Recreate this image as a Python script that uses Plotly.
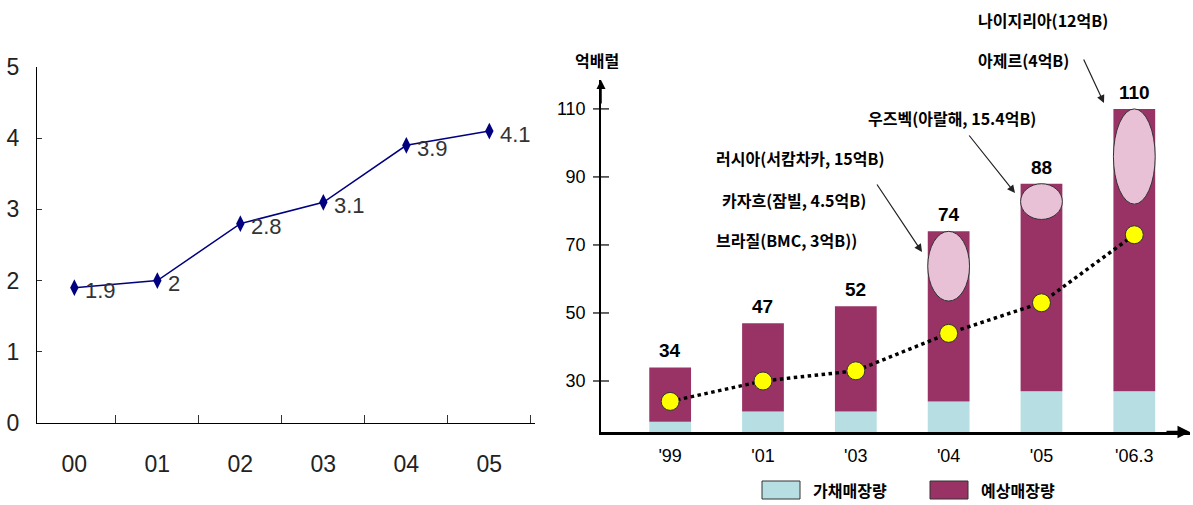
import plotly.graph_objects as go

# ---- left panel: yearly trend ----
years = ["00", "01", "02", "03", "04", "05"]
trend = [1.9, 2, 2.8, 3.1, 3.9, 4.1]
left_ticks = [0, 1, 2, 3, 4, 5]

# ---- right panel: reserves (억배럴) ----
periods = ["'99", "'01", "'03", "'04", "'05", "'06.3"]
totals = [34, 47, 52, 74, 88, 110]
proven = [18, 21, 21, 24, 27, 27]           # 가채매장량
expected = [t - p for t, p in zip(totals, proven)]  # 예상매장량
dots = [24, 30, 33, 44, 53, 73]
right_ticks = [30, 50, 70, 90, 110]
# highlighted new fields (ellipse spans on the bars)
ell_idx = [3, 4, 5]
ell_lo = [53.5, 77.5, 82]
ell_hi = [74, 88, 110]

W, H = 1193, 505
KFONT = "Noto Sans CJK KR"
NFONT = "Liberation Sans Narrow, Liberation Sans, Arial"

def px(x):
    return x / W

def py(y):
    return 1 - y / H

PURPLE = "#993366"
LBLUE = "#B7DFE3"
PINK = "#E8C1D6"

fig = go.Figure()

fig.add_trace(go.Scatter(
    x=years, y=trend, mode="lines+markers",
    line=dict(color="#000080", width=1.5),
    marker=dict(symbol="diamond-tall", size=12, color="#000080"),
    xaxis="x", yaxis="y", showlegend=False, cliponaxis=False,
))

annotations = []
# point labels on the trend line
for x, v in zip(years, trend):
    annotations.append(dict(x=x, y=v, xref="x", yref="y", text=f"{v:g}",
                            showarrow=False, xanchor="left", yanchor="middle",
                            xshift=9, yshift=-3,
                            font=dict(family="Liberation Sans, Arial", size=22,
                                      color="#333333")))

xi = list(range(len(periods)))
fig.add_trace(go.Bar(
    x=xi, y=proven, marker=dict(color=LBLUE, line=dict(width=0)),
    width=0.45, xaxis="x2", yaxis="y2", showlegend=False,
))
fig.add_trace(go.Bar(
    x=xi, y=expected, base=proven, marker=dict(color=PURPLE, line=dict(width=0)),
    width=0.45, xaxis="x2", yaxis="y2", showlegend=False,
))

shapes = []
for i, lo, hi in zip(ell_idx, ell_lo, ell_hi):
    shapes.append(dict(type="circle", xref="x2", yref="y2",
                       x0=i - 0.225, x1=i + 0.225, y0=lo, y1=hi,
                       fillcolor=PINK, line=dict(color="#333333", width=1)))

fig.add_trace(go.Scatter(
    x=xi, y=dots, mode="lines+markers",
    line=dict(color="black", width=3.5, dash="dot"),
    marker=dict(symbol="circle", size=18, color="#FFFF00",
                line=dict(color="#333333", width=1)),
    xaxis="x2", yaxis="y2", showlegend=False, cliponaxis=False,
))

# cross-style ticks on the right value axis
for v in right_ticks:
    shapes.append(dict(type="line", xref="x2 domain", yref="y2",
                       x0=-8 / 589, x1=8 / 589, y0=v, y1=v,
                       line=dict(color="black", width=1.2)))

# legend boxes
shapes.append(dict(type="rect", xref="paper", yref="paper",
                   x0=px(762), x1=px(800), y0=py(499), y1=py(481),
                   fillcolor=LBLUE, line=dict(color="#333333", width=1)))
shapes.append(dict(type="rect", xref="paper", yref="paper",
                   x0=px(930), x1=px(968), y0=py(499), y1=py(481),
                   fillcolor=PURPLE, line=dict(color="#333333", width=1)))

# bar totals
for i, t in zip(xi, totals):
    annotations.append(dict(x=i, y=t, xref="x2", yref="y2", text=f"<b>{t}</b>",
                            showarrow=False, yanchor="bottom", yshift=4,
                            font=dict(family=NFONT, size=19, color="black")))

def label(text, x, y, anchor="left"):
    annotations.append(dict(x=px(x), y=py(y), xref="paper", yref="paper",
                            text=f"<b>{text}</b>", showarrow=False,
                            xanchor=anchor, yanchor="middle",
                            font=dict(family=KFONT, size=16, color="black")))

label("억배럴", 597, 60, "center")
label("나이지리아(12억B)", 976, 20)
label("아제르(4억B)", 976, 60)
label("우즈벡(아랄해, 15.4억B)", 866, 118)
label("러시아(서캄차카, 15억B)", 714, 158)
label("카자흐(잠빌, 4.5억B)", 720, 200)
label("브라질(BMC, 3억B))", 714, 240)
label("가채매장량", 811, 490)
label("예상매장량", 979, 490)

def arrow(x0, y0, x1, y1):
    annotations.append(dict(x=px(x1), y=py(y1), xref="paper", yref="paper",
                            ax=x0 - x1, ay=y0 - y1, text="", showarrow=True,
                            arrowhead=2, arrowsize=1.3, arrowwidth=1.2,
                            arrowcolor="#222222"))

arrow(876, 183, 922, 252)
arrow(968, 134, 1015, 193)
arrow(1083, 58, 1104, 103)

# axis arrowheads
annotations.append(dict(x=0, y=1, xref="x2 domain", yref="y2 domain",
                        ax=0, ay=25, text="", showarrow=True, arrowhead=2,
                        arrowsize=1.2, arrowwidth=1.5, arrowcolor="black"))
annotations.append(dict(x=1, y=0, xref="x2 domain", yref="y2 domain",
                        ax=-25, ay=0, text="", showarrow=True, arrowhead=2,
                        arrowsize=1.0, arrowwidth=2.5, arrowcolor="black"))

fig.update_layout(
    width=W, height=H,
    margin=dict(l=0, r=0, t=0, b=0, pad=0, autoexpand=False),
    paper_bgcolor="white", plot_bgcolor="white",
    barmode="overlay", shapes=shapes, annotations=annotations,
    xaxis=dict(domain=[px(37), px(535)], type="category", range=[-0.45, 5.55],
               showline=True, linecolor="black", linewidth=1.3,
               ticks="inside", tickson="boundaries", ticklen=8,
               tickcolor="#333333", showgrid=False, zeroline=False,
               ticklabelstandoff=20, automargin=False,
               tickfont=dict(family=NFONT, size=23, color="#222222"),
               anchor="y"),
    yaxis=dict(domain=[py(423), py(67)], range=[0, 5],
               tickvals=left_ticks, showline=True, linecolor="black",
               linewidth=1.3, ticks="inside", ticklen=5, tickcolor="#333333",
               showgrid=False, zeroline=False, ticklabelstandoff=12,
               automargin=False,
               tickfont=dict(family="Liberation Sans, Arial", size=23,
                             color="#222222"),
               anchor="x"),
    xaxis2=dict(domain=[px(601), px(1190)], range=[-0.745, 5.6],
                tickvals=xi, ticktext=periods, ticks="",
                showline=True, linecolor="black", linewidth=2.5,
                showgrid=False, zeroline=False, ticklabelstandoff=6,
                automargin=False,
                tickfont=dict(family=NFONT, size=18, color="black"),
                anchor="y2"),
    yaxis2=dict(domain=[py(432), py(80)], range=[15, 118.5],
                tickvals=right_ticks, ticks="", showline=True,
                linecolor="black", linewidth=1.5, showgrid=False,
                zeroline=False, ticklabelstandoff=10, automargin=False,
                tickfont=dict(family=NFONT, size=18, color="black"),
                anchor="x2"),
)

fig.write_html("out.html")
